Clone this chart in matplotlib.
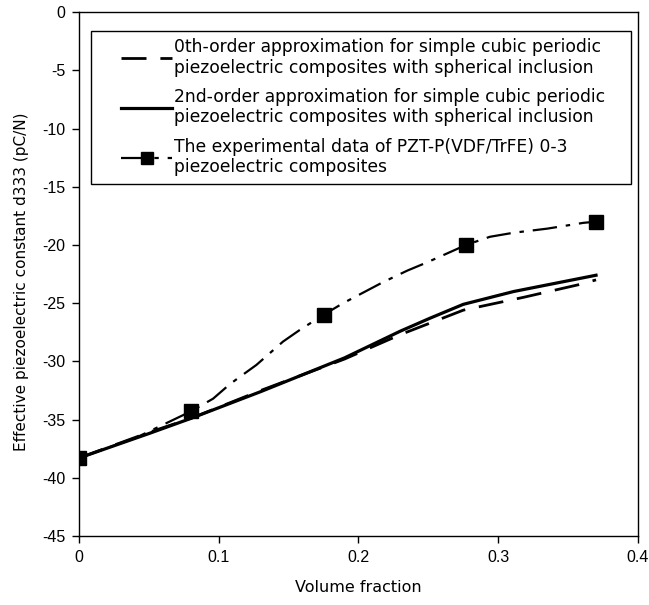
import matplotlib.pyplot as plt
from matplotlib.patches import Rectangle

plt.rcParams['font.family'] = ['DejaVu Sans']
plt.rcParams['axes.unicode_minus'] = False

# volume fraction vs effective d333 (pC/N)
vf_zeroth = [0, 0.05, 0.08, 0.13, 0.19, 0.23, 0.275, 0.318, 0.358, 0.37]
d333_zeroth = [-38.3, -36.1, -34.9, -32.5, -29.8, -27.7, -25.6, -24.5, -23.4, -23.0]

vf_second = [0, 0.05, 0.08, 0.13, 0.19, 0.23, 0.251, 0.275, 0.311, 0.37]
d333_second = [-38.3, -36.2, -34.9, -32.6, -29.7, -27.4, -26.3, -25.1, -24.0, -22.6]

vf_exp = [0, 0.08, 0.175, 0.277, 0.37]
d333_exp = [-38.3, -34.3, -26.0, -20.0, -18.0]

# trend curve drawn through the measured points
vf_exp_curve = [0, 0.04, 0.08, 0.096, 0.108, 0.127, 0.146, 0.158, 0.175, 0.189,
                0.2175, 0.235, 0.249, 0.277, 0.294, 0.311, 0.335, 0.361, 0.37]
d333_exp_curve = [-38.3, -36.6, -34.3, -33.2, -31.95, -30.3, -28.3, -27.3, -26.0, -25.0,
                  -23.2, -22.2, -21.5, -20.0, -19.3, -18.95, -18.6, -18.1, -18.0]

labels = [
    '0th-order approximation for simple cubic periodic\npiezoelectric composites with spherical inclusion',
    '2nd-order approximation for simple cubic periodic\npiezoelectric composites with spherical inclusion',
    'The experimental data of PZT-P(VDF/TrFE) 0-3\npiezoelectric composites',
]

fig = plt.figure(figsize=(6.49, 6.05), dpi=100)
ax = fig.add_axes([0.1217, 0.114, 0.8613, 0.866])

dash_style = (9, 5)
dashdot_style = (11, 4, 2, 4)

l0, = ax.plot(vf_zeroth, d333_zeroth, color='black', lw=2.0, dashes=dash_style)
l2, = ax.plot(vf_second, d333_second, color='black', lw=2.3)
ax.plot(vf_exp_curve, d333_exp_curve, color='black', lw=1.6, dashes=dashdot_style)
ax.plot(vf_exp, d333_exp, 's', color='black', ms=10, zorder=5)
lexp, = ax.plot([], [], color='black', lw=1.6, dashes=dashdot_style,
                marker='s', ms=8.5)

ax.set_xlim(0, 0.4)
ax.set_ylim(-45, 0)
ax.set_xticks([0, 0.1, 0.2, 0.3, 0.4])
ax.set_xticklabels(['0', '0.1', '0.2', '0.3', '0.4'])
ax.set_yticks(range(-45, 1, 5))
ax.tick_params(direction='out', length=5, width=1, pad=5)
for t in ax.get_xticklabels() + ax.get_yticklabels():
    t.set_fontfamily('Liberation Sans')
    t.set_fontsize(11.5)
for s in ax.spines.values():
    s.set_linewidth(1)

ax.set_xlabel('Volume fraction', fontsize=11.5, labelpad=11)
ax.set_ylabel('Effective piezoelectric constant d333 (pC/N)', fontsize=11, labelpad=9)
ax.yaxis.set_label_coords(-0.09, 0.485)

# legend frame drawn on its own, entries placed inside it
ax.add_patch(Rectangle((0.0215, 0.672), 0.966, 0.2917, transform=ax.transAxes,
                       fill=False, edgecolor='black', lw=1, zorder=6))
leg = ax.legend([l0, l2, lexp], labels, loc='upper left',
                bbox_to_anchor=(0.075, 0.951), borderaxespad=0, borderpad=0,
                fontsize=12.3, frameon=False, handlelength=3.0,
                handletextpad=0.1, labelspacing=0.65, numpoints=1)

fig.savefig('out.png', dpi=100)
